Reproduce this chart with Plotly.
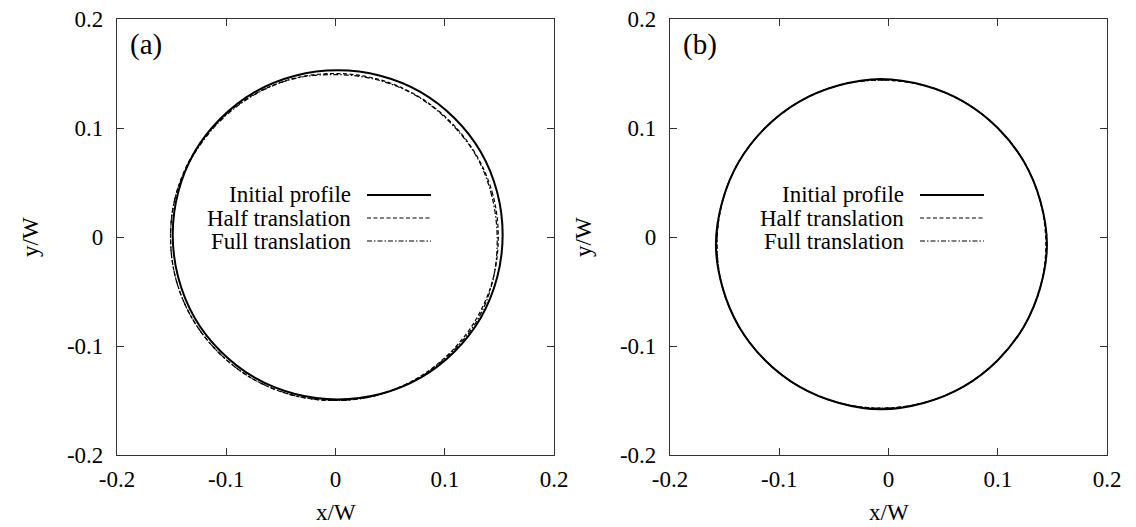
import plotly.graph_objects as go

# ---------------- data ----------------
series_names = ["Initial profile", "Half translation", "Full translation"]
tick_vals = [-0.2, -0.1, 0, 0.1, 0.2]
tick_text = ["-0.2", "-0.1", "0", "0.1", "0.2"]

# panel (a)
a_init_x = [0.153, 0.148, 0.133, 0.109, 0.078, 0.041, 0.002, -0.037, -0.074, -0.105, -0.129, -0.144,
            -0.149, -0.144, -0.129, -0.105, -0.074, -0.037, 0.002, 0.041, 0.078, 0.109, 0.133, 0.148, 0.153]
a_init_y = [0.002, 0.041, 0.078, 0.109, 0.133, 0.148, 0.153, 0.148, 0.133, 0.109, 0.078, 0.041,
            0.002, -0.037, -0.074, -0.105, -0.129, -0.144, -0.149, -0.144, -0.129, -0.105, -0.074, -0.037, 0.002]
a_half_x = [0.149, 0.144, 0.129, 0.105, 0.074, 0.038, -0.001, -0.040, -0.076, -0.107, -0.131, -0.146,
            -0.151, -0.146, -0.131, -0.107, -0.076, -0.040, -0.001, 0.038, 0.074, 0.105, 0.129, 0.144, 0.149]
a_half_y = [0.000, 0.039, 0.075, 0.106, 0.130, 0.145, 0.150, 0.145, 0.130, 0.106, 0.075, 0.039,
            0.000, -0.039, -0.075, -0.106, -0.130, -0.145, -0.150, -0.145, -0.130, -0.106, -0.075, -0.039, 0.000]
a_full_x = [0.148, 0.143, 0.129, 0.105, 0.075, 0.039, 0.000, -0.039, -0.075, -0.106, -0.130, -0.146,
            -0.151, -0.146, -0.131, -0.107, -0.076, -0.039, 0.000, 0.039, 0.075, 0.106, 0.130, 0.144, 0.148]
a_full_y = [-0.001, 0.038, 0.074, 0.105, 0.129, 0.144, 0.149, 0.145, 0.130, 0.106, 0.075, 0.039,
            0.000, -0.039, -0.075, -0.106, -0.130, -0.145, -0.150, -0.145, -0.130, -0.106, -0.076, -0.040, -0.001]

# panel (b)
b_init_x = [0.145, 0.139, 0.124, 0.100, 0.069, 0.033, -0.007, -0.046, -0.082, -0.113, -0.137, -0.152,
            -0.158, -0.152, -0.137, -0.113, -0.082, -0.046, -0.007, 0.033, 0.069, 0.100, 0.124, 0.139, 0.145]
b_init_y = [-0.007, 0.033, 0.069, 0.100, 0.124, 0.139, 0.145, 0.139, 0.124, 0.100, 0.069, 0.033,
            -0.007, -0.046, -0.082, -0.113, -0.137, -0.152, -0.158, -0.152, -0.137, -0.113, -0.082, -0.046, -0.007]
b_half_x = [0.144, 0.139, 0.124, 0.100, 0.069, 0.032, -0.007, -0.046, -0.082, -0.113, -0.137, -0.152,
            -0.157, -0.152, -0.137, -0.113, -0.082, -0.046, -0.007, 0.032, 0.069, 0.100, 0.124, 0.139, 0.144]
b_half_y = [-0.007, 0.032, 0.069, 0.100, 0.124, 0.139, 0.144, 0.139, 0.124, 0.100, 0.069, 0.032,
            -0.007, -0.046, -0.082, -0.113, -0.137, -0.152, -0.157, -0.152, -0.137, -0.113, -0.082, -0.046, -0.007]
b_full_x = [0.145, 0.139, 0.124, 0.100, 0.069, 0.033, -0.007, -0.046, -0.082, -0.113, -0.137, -0.152,
            -0.157, -0.152, -0.137, -0.113, -0.082, -0.046, -0.007, 0.033, 0.069, 0.100, 0.124, 0.139, 0.145]
b_full_y = [-0.007, 0.033, 0.069, 0.100, 0.124, 0.139, 0.144, 0.139, 0.124, 0.100, 0.069, 0.033,
            -0.007, -0.046, -0.082, -0.113, -0.137, -0.152, -0.157, -0.152, -0.137, -0.113, -0.082, -0.046, -0.007]

# ---------------- layout helpers ----------------
OFF = 8                      # default page margin of the HTML body
W, H = 1136 - OFF, 527 - OFF
FONT = "Liberation Serif, Times New Roman, serif"
FS = 23


def px(x):
    return (x - OFF) / W


def py(y):
    return 1 - (y - OFF) / H


styles = [dict(width=2, dash="solid"),
          dict(width=1.2, dash="4px,2.5px"),
          dict(width=1.2, dash="5px,2px,1.5px,2px")]

fig = go.Figure()
panels = [
    ("x", "y", [(a_init_x, a_init_y), (a_half_x, a_half_y), (a_full_x, a_full_y)]),
    ("x2", "y2", [(b_init_x, b_init_y), (b_half_x, b_half_y), (b_full_x, b_full_y)]),
]
for xa, ya, data in panels:
    for (xs, ys), name, st in zip(data, series_names, styles):
        fig.add_trace(go.Scatter(x=xs, y=ys, mode="lines", name=name, xaxis=xa, yaxis=ya,
                                 line=dict(color="black", width=st["width"], dash=st["dash"],
                                           shape="spline", smoothing=1.0),
                                 showlegend=False, hoverinfo="skip"))

left_edges = [117, 670]
plot_w = 437
top_px, bot_px = 19, 455

axis_common = dict(range=[-0.2, 0.2], tickvals=tick_vals, ticktext=tick_text,
                   showline=True, mirror="ticks", linecolor="#333333", linewidth=1.2,
                   ticks="inside", ticklen=7, tickcolor="#333333", tickwidth=1,
                   showgrid=False, zeroline=False, automargin=False,
                   ticklabeloverflow="allow",
                   tickfont=dict(family=FONT, size=FS, color="black"))

fig.update_layout(
    width=W, height=H, margin=dict(l=0, r=0, t=0, b=0, pad=0, autoexpand=False),
    paper_bgcolor="white", plot_bgcolor="white", showlegend=False,
    xaxis=dict(domain=[px(117), px(117 + plot_w)], anchor="y", ticklabelstandoff=3, **axis_common),
    yaxis=dict(domain=[py(bot_px), py(top_px)], anchor="x", ticklabelstandoff=8, **axis_common),
    xaxis2=dict(domain=[px(670), px(670 + plot_w)], anchor="y2", ticklabelstandoff=3, **axis_common),
    yaxis2=dict(domain=[py(bot_px), py(top_px)], anchor="x2", ticklabelstandoff=8, **axis_common),
)

annotations = []
shapes = []
row_y = [195, 218, 241]
for i, L in enumerate(left_edges):
    # axis titles
    annotations.append(dict(x=px(L + plot_w / 2), y=py(512), xref="paper", yref="paper", text="x/W",
                            showarrow=False, font=dict(family=FONT, size=FS, color="black"),
                            xanchor="center", yanchor="middle"))
    annotations.append(dict(x=px(L - 87), y=py(237), xref="paper", yref="paper", text="y/W",
                            showarrow=False, textangle=-90, font=dict(family=FONT, size=FS, color="black"),
                            xanchor="center", yanchor="middle"))
    # panel label
    annotations.append(dict(x=px(L + 11), y=py(45), xref="paper", yref="paper", text=["(a)", "(b)"][i],
                            showarrow=False, font=dict(family=FONT, size=29, color="black"),
                            xanchor="left", yanchor="middle"))
    # legend
    for name, st, ry in zip(series_names, styles, row_y):
        annotations.append(dict(x=px(L + 236), y=py(ry), xref="paper", yref="paper", text=name,
                                showarrow=False, font=dict(family=FONT, size=FS, color="black"),
                                xanchor="right", yanchor="middle"))
        shapes.append(dict(type="line", xref="paper", yref="paper",
                           x0=px(L + 250), x1=px(L + 314), y0=py(ry), y1=py(ry),
                           line=dict(color="black", width=st["width"], dash=st["dash"])))

fig.update_layout(annotations=annotations, shapes=shapes)
fig.write_html("out.html")
